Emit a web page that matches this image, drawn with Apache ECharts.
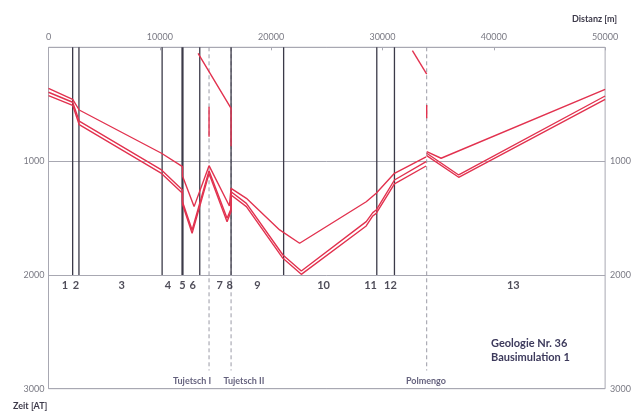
<!DOCTYPE html>
<html><head><meta charset="utf-8">
<script src="https://cdn.jsdelivr.net/npm/echarts@6/dist/echarts.min.js"></script>
<style>html,body{margin:0;padding:0;background:#fff}#c{width:634px;height:417px}</style>
</head><body><div id="c"></div>
<script>
// ---- data ----
const xTicks = [0, 10000, 20000, 30000, 40000, 50000];
const yTicks = [0, 1000, 2000, 3000];
const boundaryX = [2170, 2735, 10206, 12036, 13587, 16400, 21121, 29489, 31076];
const boundaryTop = 0, boundaryBottom = 2000;
const stationX = [14421, 16400, 33973];
const stationNames = ['Tujetsch I', 'Tujetsch II', 'Polmengo'];
const stationLabelX = [12900, 17550, 33900];
const stationBottom = 2840;
const stationLabelY = 2930;
const segLabels = ['1','2','3','4','5','6','7','8','9','10','11','12','13'];
const segX = [1480, 2470, 6565, 10720, 12036, 12960, 15380, 16280, 18760, 24710, 28927, 30720, 41750];
const segY = 2095;
// upper curve
const upperA = [[0,360],[2170,457],[2760,551],[10150,931],[12036,1049],[12036,1130],[13077,1400],[14420,1040],[16250,1395],[16400,1239],[17776,1327],[20763,1605],[22557,1722],[28540,1357],[29436,1283],[31077,1107],[33920,962]];
const upperB = [[33973,917],[35266,975],[50000,369]];
// double curve, first strand
const midA = [[0,395],[2170,483],[2760,648],[10150,1078],[12036,1254],[12036,1357],[12900,1605],[14420,1084],[16040,1503],[16400,1420],[16400,1269],[17776,1371],[21060,1825],[22710,1966],[28540,1532],[29130,1453],[29436,1430],[31077,1166],[33920,1005]];
const midB = [[33973,931],[36845,1122],[50000,428]];
// double curve, second strand
const lowA = [[0,425],[2170,510],[2760,680],[10150,1108],[12036,1283],[12036,1380],[12900,1634],[14420,1110],[16040,1532],[16400,1440],[16400,1298],[17776,1400],[21060,1854],[22710,1995],[28540,1570],[29130,1482],[29436,1459],[31077,1201],[33920,1043]];
const lowB = [[33973,952],[36845,1142],[50000,457]];
// short extra segments
const extra1 = [[13437,53],[16400,536],[16400,870]];
const extra2 = [[14421,522],[14421,786]];
const extra3 = [[32690,30],[33973,235]];
const extra4 = [[33973,507],[33973,624]];

const RED = '#e2324f';
const FONT = 'Lato';
const series = [];
boundaryX.forEach((x, i) => {
  series.push({type:'line', data:[[x,boundaryTop],[x,boundaryBottom]], symbol:'none', silent:true,
    lineStyle:{color:'#3b3a48', width: i === 3 ? 2.2 : 1.3}, z:2});
});
stationX.forEach(x => {
  series.push({type:'line', data:[[x,boundaryTop],[x,stationBottom]], symbol:'none', silent:true,
    lineStyle:{color:'#9a9aa6', width:1, type:[4,3]}, z:1});
});
[upperA, upperB, midA, midB, lowA, lowB, extra1, extra2, extra3, extra4].forEach(d => {
  series.push({type:'line', data:d, symbol:'none', silent:true, lineStyle:{color:RED, width:1.4}, z:5});
});
series.push({type:'scatter', symbolSize:0, silent:true,
  data: segX.map((x,i)=>({value:[x,segY], name:segLabels[i]})),
  label:{show:true, position:'inside', formatter:p=>p.name, color:'#23212f', fontSize:11, fontWeight:'bold', fontFamily:FONT}});
series.push({type:'scatter', symbolSize:0, silent:true,
  data: stationLabelX.map((x,i)=>({value:[x,stationLabelY], name:stationNames[i]})),
  label:{show:true, position:'inside', formatter:p=>p.name, color:'#3d3a5c', fontSize:9, fontWeight:'bold', fontFamily:FONT}});

const axisLabelStyle = {color:'#7a7a84', fontSize:9, fontFamily:FONT};
const chart = echarts.init(document.getElementById('c'), null, {renderer:'canvas'});
chart.setOption({
  animation:false,
  backgroundColor:'#fff',
  grid:{left:48.5, right:28, top:47.3, bottom:28.3, show:true, borderColor:'#a8a8b2', borderWidth:1},
  title:[
    {text:'Distanz [m]', right:12, top:10, textStyle:{fontSize:9, color:'#3d3a4a', fontFamily:FONT, fontWeight:'bold'}},
    {text:'Zeit [AT]', left:8, top:397, textStyle:{fontSize:9, color:'#3d3a4a', fontFamily:FONT, fontWeight:'bold'}},
    {text:'Geologie Nr. 36\nBausimulation 1', left:486, top:331, textStyle:{fontSize:11, lineHeight:14, color:'#3d3a5c', fontFamily:FONT, fontWeight:'bold'}}
  ],
  xAxis:{type:'value', position:'top', min:xTicks[0], max:xTicks[xTicks.length-1], interval:10000,
    axisLine:{show:false}, axisTick:{show:true, inside:true, length:3, lineStyle:{color:'#a8a8b2'}},
    splitLine:{show:false},
    axisLabel:Object.assign({margin:6, formatter:v=>String(v)}, axisLabelStyle)},
  yAxis:[
    {type:'value', inverse:true, min:yTicks[0], max:yTicks[yTicks.length-1], interval:1000,
     axisLine:{show:false}, axisTick:{show:false},
     splitLine:{show:true, lineStyle:{color:'#a8a8b2', width:1}},
     axisLabel:Object.assign({margin:4, formatter:v=> v===0 ? '' : String(v)}, axisLabelStyle)},
    {type:'value', inverse:true, position:'right', min:yTicks[0], max:yTicks[yTicks.length-1], interval:1000,
     axisLine:{show:false}, axisTick:{show:false}, splitLine:{show:false},
     axisLabel:Object.assign({margin:5, formatter:v=> v===0 ? '' : String(v)}, axisLabelStyle)}
  ],
  series: series
});
</script></body></html>
